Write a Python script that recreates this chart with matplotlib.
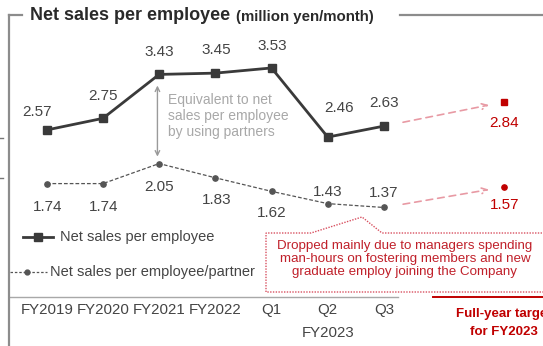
import matplotlib.pyplot as plt
from matplotlib.lines import Line2D
from matplotlib.patches import Polygon

plt.rcParams['font.family'] = ['Liberation Sans', 'DejaVu Sans']

# Data (million yen/month)
periods = ['FY2019', 'FY2020', 'FY2021', 'FY2022', 'Q1', 'Q2', 'Q3']
sales_per_employee = [2.57, 2.75, 3.43, 3.45, 3.53, 2.46, 2.63]
sales_per_partner = [1.74, 1.74, 2.05, 1.83, 1.62, 1.43, 1.37]
target_employee = 2.84
target_partner = 1.57

# label offsets in pixels (dx, dy) relative to each point
emp_offsets = [(-10, 18), (0, 22), (0, 22), (1, 23), (1, 22), (11, 29), (0, 23)]
par_offsets = [(1, -23), (1, -23), (0, -23), (1, -22), (0, -22), (0, 12), (0, 14)]

W, H = 543, 346
DARK = '#3a3a3a'
TEXT = '#444444'
GREY = '#9a9a9a'
RED = '#c00000'
PINK = '#e89aa4'


def fx(x):
    return x / W


def fy(y):
    return 1 - y / H


fig = plt.figure(figsize=(W / 100, H / 100), dpi=100)

# main plot area
ax = fig.add_axes([0, 0, 1, 1])
ax.set_xlim(-0.831, 8.83)
ax.set_ylim(-0.774, 4.582)
ax.axis('off')

# target panel has its own scale
tax = fig.add_axes([fx(464), 0, fx(80), 1])
tax.set_xlim(0, 1)
tax.set_ylim(-0.807, 4.365)
tax.axis('off')

x = list(range(len(periods)))
ax.plot(x, sales_per_employee, color=DARK, lw=2, marker='s', ms=5.5, zorder=3)
ax.plot(x, sales_per_partner, color='#555555', lw=0.9, ls=(0, (3, 1.6)),
        marker='o', ms=3.8, zorder=3)

for xi, v, (dx, dy) in zip(x, sales_per_employee, emp_offsets):
    ax.annotate(f'{v:.2f}', (xi, v), xytext=(dx, dy), textcoords='offset pixels',
                ha='center', va='center', fontsize=11, color=TEXT)
for xi, v, (dx, dy) in zip(x, sales_per_partner, par_offsets):
    ax.annotate(f'{v:.2f}', (xi, v), xytext=(dx, dy), textcoords='offset pixels',
                ha='center', va='center', fontsize=11, color=TEXT)

# targets
tax.plot([0.5], [target_employee], marker='s', ms=4.5, color=RED, ls='none')
tax.plot([0.5], [target_partner], marker='o', ms=3.8, color=RED, ls='none')
tax.annotate(f'{target_employee:.2f}', (0.5, target_employee), xytext=(0, -21),
             textcoords='offset pixels', ha='center', va='center',
             fontsize=11, color=RED)
tax.annotate(f'{target_partner:.2f}', (0.5, target_partner), xytext=(1, -18),
             textcoords='offset pixels', ha='center', va='center',
             fontsize=11, color=RED)

# dashed arrows towards the targets
for v_from, v_to in [(sales_per_employee[-1], target_employee),
                     (sales_per_partner[-1], target_partner)]:
    ax.annotate('', xy=(0.5, v_to), xycoords=tax.transData,
                xytext=(x[-1], v_from), textcoords=ax.transData,
                arrowprops=dict(arrowstyle='->', color=PINK, lw=1.2,
                                ls=(0, (4, 3)), shrinkA=14, shrinkB=11,
                                mutation_scale=10))

# partner effect arrow
ax.annotate('', xy=(1.97, sales_per_partner[2]), xytext=(1.97, sales_per_employee[2]),
            arrowprops=dict(arrowstyle='<->', color=GREY, lw=1,
                            shrinkA=8, shrinkB=5, mutation_scale=8))
fig.text(fx(168), fy(116), 'Equivalent to net\nsales per employee\nby using partners',
         ha='left', va='center', fontsize=10, color='#a8a8a8', linespacing=1.2)

# x axis and category labels
fig.add_artist(Line2D([fx(10), fx(398)], [fy(297), fy(297)], color='#a8a8a8', lw=1))
fig.add_artist(Line2D([fx(433), fx(545)], [fy(297), fy(297)], color=RED, lw=1.4))
for xi, lab in zip(x, periods):
    ax.text(xi, fy(310), lab, transform=ax.get_xaxis_transform(),
            ha='center', va='center', fontsize=10.8, color=TEXT)
ax.text(x[5], fy(333), 'FY2023', transform=ax.get_xaxis_transform(),
        ha='center', va='center', fontsize=10.8, color=TEXT)
tax.text(0.5, fy(314), 'Full-year target', transform=tax.get_xaxis_transform(),
         ha='center', va='center', fontsize=9.5, color=RED, fontweight='bold')
tax.text(0.5, fy(332), 'for FY2023', transform=tax.get_xaxis_transform(),
         ha='center', va='center', fontsize=9.5, color=RED, fontweight='bold')

# legend
fig.add_artist(Line2D([fx(23), fx(53)], [fy(237), fy(237)], color=DARK, lw=2))
fig.add_artist(Line2D([fx(38)], [fy(237)], color=DARK, marker='s', ms=5.5))
fig.text(fx(60), fy(237), 'Net sales per employee', ha='left', va='center',
         fontsize=10.5, color=TEXT)
fig.add_artist(Line2D([fx(10), fx(47)], [fy(272), fy(272)], color='#555555',
                      lw=0.9, ls=(0, (2, 1.5))))
fig.add_artist(Line2D([fx(27)], [fy(272)], color='#555555', marker='o', ms=3.5))
fig.text(fx(50), fy(272), 'Net sales per employee/partner', ha='left', va='center',
         fontsize=10.5, color=TEXT)

# callout box
box = Polygon([(fx(266), fy(292)), (fx(266), fy(233)), (fx(311), fy(233)),
               (fx(362), fy(217)), (fx(382), fy(233)), (fx(546), fy(233)),
               (fx(546), fy(292))], closed=True, transform=fig.transFigure,
              facecolor='white', edgecolor='#d85060', lw=1, ls=(0, (1, 1)), zorder=4)
fig.add_artist(box)
fig.text(fx(405), fy(259),
         'Dropped mainly due to managers spending\nman-hours on fostering members and new\n'
         'graduate employ joining the Company',
         ha='center', va='center', fontsize=9.6, color='#c0202a', linespacing=1.1,
         zorder=5)

# title frame
frame = '#8c8c8c'
fig.add_artist(Line2D([fx(9), fx(9)], [fy(15), fy(347)], color=frame, lw=1.6))
fig.add_artist(Line2D([fx(9), fx(22)], [fy(15), fy(15)], color=frame, lw=1.6))
fig.add_artist(Line2D([fx(400), fx(545)], [fy(15), fy(15)], color=frame, lw=1.6))
fig.text(fx(30), fy(16), 'Net sales per employee', ha='left', va='center',
         fontsize=13, fontweight='bold', color='#2a2a2a')
fig.text(fx(236), fy(17), '(million yen/month)', ha='left', va='center',
         fontsize=10.8, fontweight='bold', color='#2a2a2a')

# small marks on the left edge
for yy in (138, 178):
    fig.add_artist(Line2D([fx(0), fx(3)], [fy(yy), fy(yy)], color='#777777', lw=1))

fig.savefig('out.png', dpi=100)
